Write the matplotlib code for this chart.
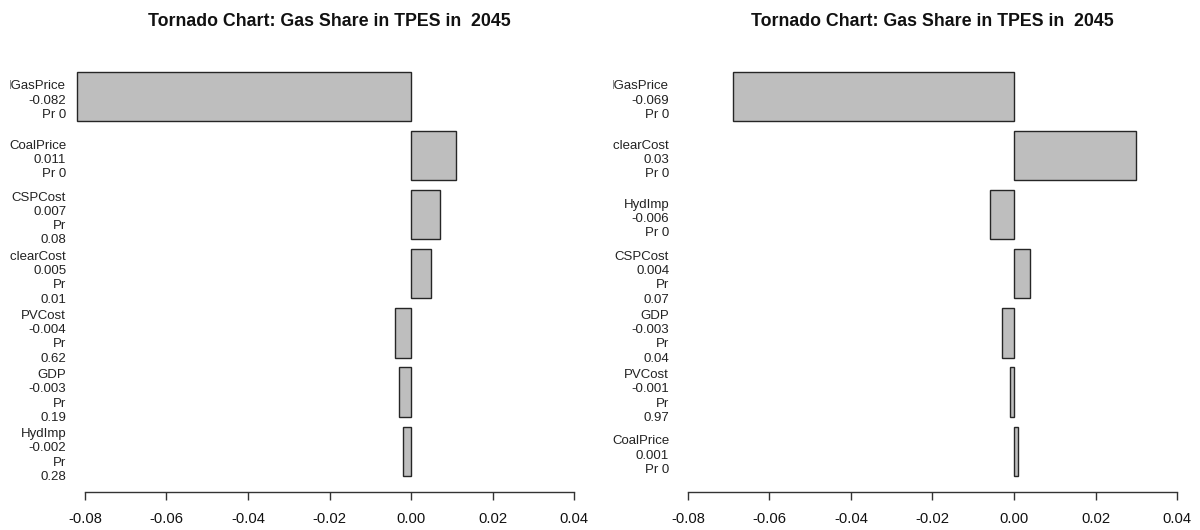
import matplotlib
matplotlib.use("Agg")
import matplotlib.pyplot as plt
from matplotlib.transforms import Bbox, TransformedBbox

# Sensitivity of gas share in TPES (2045), two model runs
left_names = ["NGasPrice", "CoalPrice", "CSPCost", "NuclearCost", "PVCost", "GDP", "HydImp"]
left_values = [-0.082, 0.011, 0.007, 0.005, -0.004, -0.003, -0.002]
left_pr = ["0", "0", "0.08", "0.01", "0.62", "0.19", "0.28"]

right_names = ["NGasPrice", "NuclearCost", "HydImp", "CSPCost", "GDP", "PVCost", "CoalPrice"]
right_values = [-0.069, 0.03, -0.006, 0.004, -0.003, -0.001, 0.001]
right_pr = ["0", "0", "0", "0.07", "0.04", "0.97", "0"]

x_ticks = [-0.08, -0.06, -0.04, -0.02, 0.00, 0.02, 0.04]
x_tick_labels = ["-0.08", "-0.06", "-0.04", "-0.02", "0.00", "0.02", "0.04"]
title = "Tornado Chart: Gas Share in TPES in  2045"

plt.rcParams["font.family"] = ["Liberation Sans", "DejaVu Sans"]

W, H = 1200, 530
fig = plt.figure(figsize=(W / 100, H / 100), dpi=100)


def make_label(name, value, pr):
    if pr == "0":
        return f"{name}\n{value:g}\nPr 0"
    return f"{name}\n{value:g}\nPr\n{pr}"


def tornado(left_px, clip_px, names, values, prs):
    ax_w = 528.2
    bottom_px, top_px = 492.0, 55.4
    ax = fig.add_axes([left_px / W, (H - bottom_px) / H, ax_w / W, (bottom_px - top_px) / H])
    n = len(values)
    # bar layout: width 1, gap 0.2, first item on top
    pos = [0.7 + 1.2 * (n - 1 - i) for i in range(n)]
    ax.barh(pos, values, height=1.0, color="#bebebe", edgecolor="#262626", linewidth=1.0)
    lo, hi = 0.2, 0.2 + 1.2 * n - 0.2
    pad = 0.04 * (hi - lo)
    ax.set_ylim(lo - pad, hi + pad)
    xr = x_ticks[-1] - x_ticks[0]
    ax.set_xlim(x_ticks[0] - 0.04 * xr, x_ticks[-1] + 0.04 * xr)

    for s in ("top", "right", "left"):
        ax.spines[s].set_visible(False)
    ax.spines["bottom"].set_bounds(x_ticks[0], x_ticks[-1])
    ax.spines["bottom"].set_color("#333333")
    ax.spines["bottom"].set_linewidth(1.0)
    ax.set_yticks([])
    ax.set_xticks(x_ticks)
    ax.set_xticklabels(x_tick_labels, fontsize=10.6, color="#111111")
    ax.tick_params(axis="x", direction="out", length=5.8, width=1.0, color="#333333", pad=8.5)

    clip = TransformedBbox(Bbox([[clip_px / W, 0], [(left_px + ax_w) / W, 1]]), fig.transFigure)
    for p, name, v, pr in zip(pos, names, values, prs):
        t = ax.text(0.0015, p - 0.09, make_label(name, v, pr), transform=ax.get_yaxis_transform(),
                    ha="right", va="center", multialignment="right", fontsize=9.5,
                    color="#222222", linespacing=1.25)
        t.set_clip_on(True)
        t.set_clip_box(clip)

    fig.text((left_px + ax_w / 2) / W, 1 - 21 / H, title, ha="center", va="center",
             fontsize=12.8, fontweight="bold", color="#111111")
    return ax


tornado(65.4, 10.0, left_names, left_values, left_pr)
tornado(668.4, 613.0, right_names, right_values, right_pr)

fig.savefig("out.png", dpi=100, facecolor="white")
